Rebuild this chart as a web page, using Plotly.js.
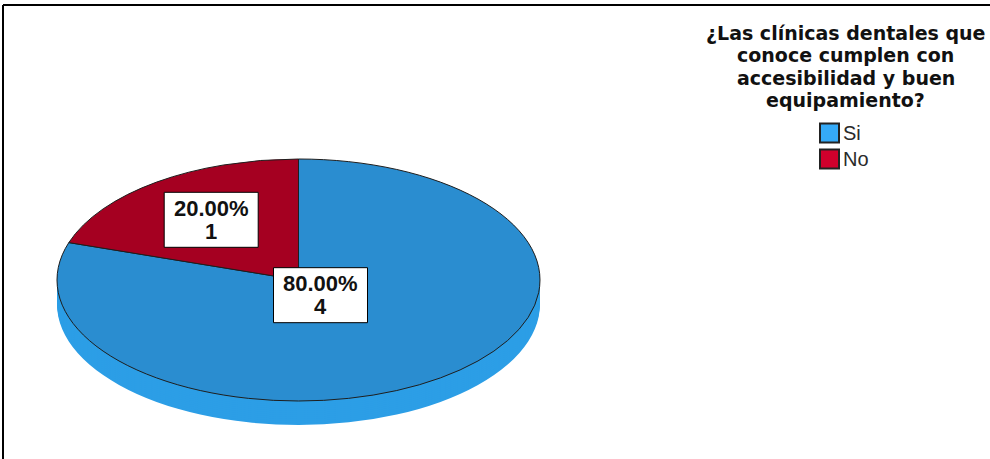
<!DOCTYPE html>
<html>
<head>
<meta charset="utf-8">
<script src="https://cdn.plot.ly/plotly-3.0.1.min.js"></script>
<style>
  html, body { margin: 0; padding: 0; background: #ffffff; }
  #chart { width: 990px; height: 459px; }
</style>
</head>
<body>
<div id="chart"></div>
<script>
// ---- Data ----
const categories = ['Si', 'No'];
const counts = [4, 1];
const titleLines = ['¿Las clínicas dentales que', 'conoce cumplen con', 'accesibilidad y buen', 'equipamiento?'];

// ---- Styles / geometry ----
const W = 990, H = 459;
const topColors = ['#2a8dd0', '#a50021'];
const sideColors = ['#2c9ee6', '#7d0019'];
const legendColors = ['#35aaf7', '#d0002c'];
const cx = 298.5, cy = 280, rx = 241.5, ry = 121, depth = 24, depthStep = 2;
const labelRadius = [0.155, 0.615];
const boxW = 94, boxH = 55, lineGap = 23.3;

function domainFor(offset) {
  return {
    x: [(cx - ry) / W, (cx + ry) / W],
    y: [(H - (cy + offset) - ry) / H, (H - (cy + offset) + ry) / H]
  };
}

const traces = [];
for (let d = depth; d >= depthStep; d -= depthStep) {
  traces.push({
    type: 'pie', labels: categories, values: counts, sort: false,
    direction: 'clockwise', rotation: 0, textinfo: 'none', hoverinfo: 'skip',
    showlegend: false, domain: domainFor(d),
    marker: { colors: sideColors, line: { width: 0 } }
  });
}
traces.push({
  type: 'pie', labels: categories, values: counts, sort: false,
  direction: 'clockwise', rotation: 0, textinfo: 'none', hoverinfo: 'skip',
  showlegend: false, domain: domainFor(0),
  marker: { colors: topColors, line: { color: '#1e1e1e', width: 1 } }
});

const shapes = [
  { type: 'line', xref: 'paper', yref: 'paper', x0: 3 / W, x1: 1, y0: 1 - 5 / H, y1: 1 - 5 / H, line: { color: '#000', width: 2 } },
  { type: 'line', xref: 'paper', yref: 'paper', x0: 3 / W, x1: 3 / W, y0: 0, y1: 1 - 5 / H, line: { color: '#000', width: 2 } }
];

const total = counts.reduce((a, b) => a + b, 0);
const annotations = [];
const labelFont = { family: 'Liberation Sans, Arial, sans-serif', size: 22, color: '#111' };
let cum = 0;
counts.forEach((v, i) => {
  const a = 2 * Math.PI * (cum + v / 2) / total;
  cum += v;
  const px = cx + Math.sin(a) * rx * labelRadius[i];
  const py = cy - Math.cos(a) * ry * labelRadius[i];
  shapes.push({
    type: 'rect', xref: 'paper', yref: 'paper',
    x0: (px - boxW / 2) / W, x1: (px + boxW / 2) / W,
    y0: 1 - (py + boxH / 2) / H, y1: 1 - (py - boxH / 2) / H,
    fillcolor: '#ffffff', line: { color: '#000', width: 1 }, layer: 'above'
  });
  const lines = [(100 * v / total).toFixed(2) + '%', String(v)];
  lines.forEach((t, k) => {
    annotations.push({
      xref: 'paper', yref: 'paper', x: px / W,
      y: 1 - (py + (k - 0.5) * lineGap) / H,
      xanchor: 'center', yanchor: 'middle', showarrow: false,
      text: '<b>' + t + '</b>', font: labelFont
    });
  });
});

const titleBaselines = [40, 62.3, 84.6, 106.9];
titleLines.forEach((t, i) => {
  annotations.push({
    xref: 'paper', yref: 'paper', x: 845.5 / W, y: 1 - (titleBaselines[i] - 7) / H,
    xanchor: 'center', yanchor: 'middle', showarrow: false,
    text: '<b>' + t + '</b>',
    font: { family: 'DejaVu Sans, Verdana, sans-serif', size: 19, color: '#111' }
  });
});

const legendCenters = [133, 159];
categories.forEach((c, i) => {
  const yc = legendCenters[i];
  shapes.push({
    type: 'rect', xref: 'paper', yref: 'paper',
    x0: 820 / W, x1: 839 / W, y0: 1 - (yc + 9.5) / H, y1: 1 - (yc - 9.5) / H,
    fillcolor: legendColors[i], line: { color: '#222', width: 2 }
  });
  annotations.push({
    xref: 'paper', yref: 'paper', x: 841 / W, y: 1 - yc / H,
    xanchor: 'left', yanchor: 'middle', showarrow: false, text: c,
    font: { family: 'Liberation Sans, Arial, sans-serif', size: 20, color: '#2a2a2a' }
  });
});

const layout = {
  width: W, height: H,
  margin: { l: 0, r: 0, t: 0, b: 0 },
  paper_bgcolor: '#ffffff', plot_bgcolor: '#ffffff',
  showlegend: false,
  annotations: annotations,
  shapes: shapes
};

Plotly.newPlot('chart', traces, layout, { staticPlot: true, displayModeBar: false }).then(function () {
  const sx = rx / ry;
  document.querySelectorAll('.pielayer g.trace').forEach(function (g) {
    g.setAttribute('transform', 'translate(' + cx + ',0) scale(' + sx + ',1) translate(' + (-cx) + ',0)');
  });
  document.querySelectorAll('.pielayer path').forEach(function (p) {
    p.setAttribute('vector-effect', 'non-scaling-stroke');
  });
});
</script>
</body>
</html>
